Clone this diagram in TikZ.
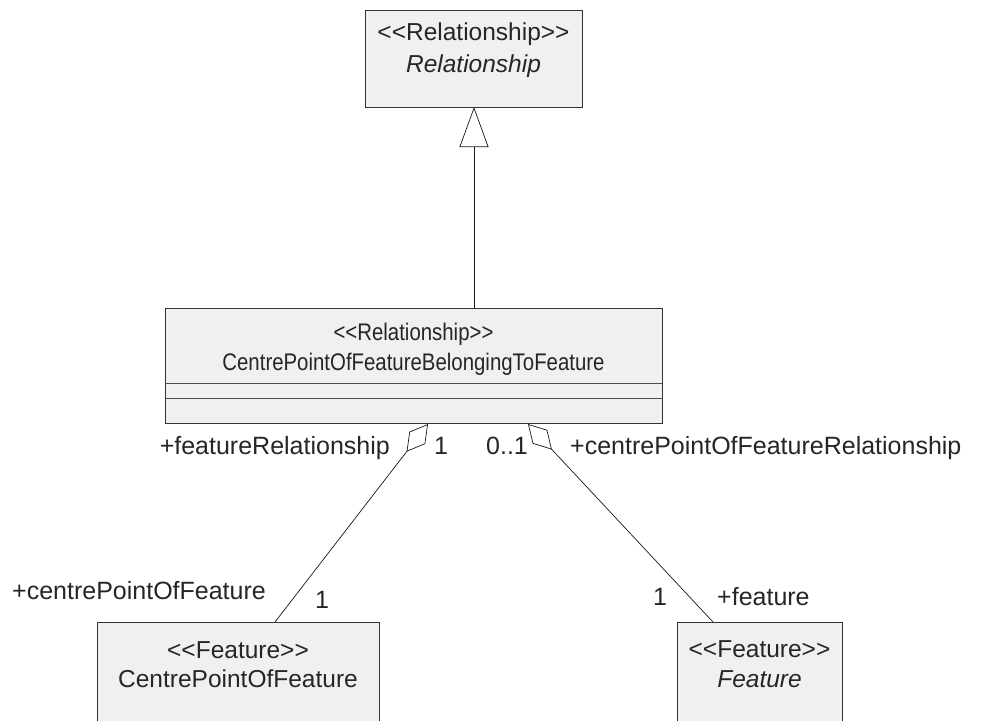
\documentclass[tikz,border=0pt]{standalone}
\usepackage{fontspec}
\setmainfont{Liberation Sans}[Ligatures=TeXOff]
\usetikzlibrary{arrows.meta,calc}
\newcommand{\condensed}[1]{\scalebox{0.85}[1]{#1}}
\begin{document}
\begin{tikzpicture}[x=1pt,y=-1pt,
  cls/.style={draw=black!80, fill=black!6, line width=1.1pt, rectangle, inner sep=0pt, anchor=north west},
  txt/.style={font=\fontsize{24.5}{28}\selectfont, text=black!85, inner sep=0pt, anchor=base},
  midtxt/.style={font=\fontsize{24}{28}\selectfont, text=black!85, inner sep=0pt, anchor=base},
  lbl/.style={font=\fontsize{25}{29}\selectfont, text=black!85, inner sep=0pt},
  conn/.style={draw=black!90, line width=0.7pt},
  sep/.style={draw=black!70, line width=0.9pt}]
\clip (0,0) rectangle (981,720);
\fill[white] (0,0) rectangle (981,720);
% class boxes
\node[cls, minimum width=217pt, minimum height=97pt] (rel) at (365,10) {};
\node[cls, minimum width=497pt, minimum height=115pt] (mid) at (165,308) {};
\node[cls, minimum width=282pt, minimum height=130pt] (cpf) at (97,622) {};
\node[cls, minimum width=165pt, minimum height=130pt] (feat) at (677,622) {};
% compartments
\coordinate (s1) at (165,383);
\coordinate (s2) at (165,398);
\draw[sep] (s1) -- (s1 -| mid.east);
\draw[sep] (s2) -- (s2 -| mid.east);
% class texts
\node[txt] (relst) at (473.5,40) {<<Relationship>>};
\node[txt] (relnm) at (473.5,72) {\itshape Relationship};
\node[midtxt] (midst) at (413.5,340) {\condensed{<<Relationship>>}};
\node[midtxt] (midnm) at (413.5,370) {\condensed{CentrePointOfFeatureBelongingToFeature}};
\node[txt] (cpfst) at (238,658) {<<Feature>>};
\node[txt] (cpfnm) at (238,687) {CentrePointOfFeature};
\node[txt] (featst) at (759.5,657) {<<Feature>>};
\node[txt] (featnm) at (759.5,687) {\itshape Feature};
% generalization
\coordinate (gtop) at (474,107);
\coordinate (gbot) at (474,308);
\draw[conn, -{Triangle[open, length=40pt, width=29pt, fill=white]}] (gbot) -- (gtop);
% aggregations
\coordinate (aL) at (428,424);
\coordinate (eL) at (275,622);
\coordinate (aR) at (528,424);
\coordinate (eR) at (713,622);
\draw[conn, -{Diamond[open, length=35pt, width=20pt, fill=white]}] (eL) -- (aL);
\draw[conn, -{Diamond[open, length=35pt, width=20pt, fill=white]}] (eR) -- (aR);
% labels
\node[lbl, anchor=base east] (lfr) at (390,454) {+featureRelationship};
\node[lbl, anchor=base] (m1) at (441,454) {1};
\node[lbl, anchor=base] (m2) at (507,454) {0..1};
\node[lbl, anchor=base west] (lcr) at (570,454) {+centrePointOfFeatureRelationship};
\node[lbl, anchor=base west] (lcp) at (12,599) {+centrePointOfFeature};
\node[lbl, anchor=base] (m3) at (322,608) {1};
\node[lbl, anchor=base] (m4) at (660,605) {1};
\node[lbl, anchor=base west] (lf) at (717,605) {+feature};
\end{tikzpicture}
\end{document}
